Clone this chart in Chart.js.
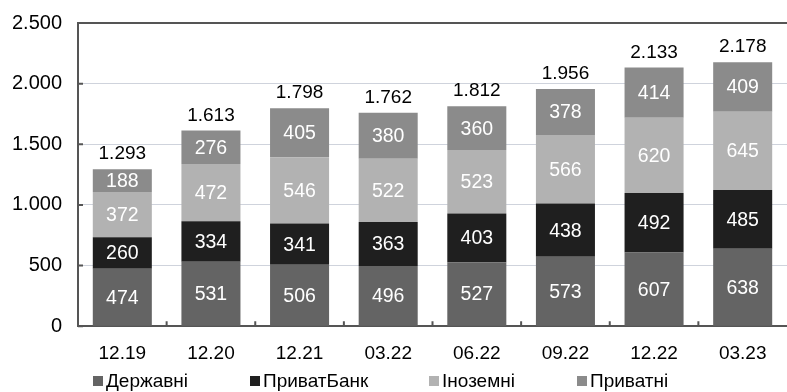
<!DOCTYPE html>
<html>
<head>
<meta charset="utf-8">
<script src="https://cdn.jsdelivr.net/npm/chart.js@4/dist/chart.umd.min.js"></script>
<style>
  html, body { margin: 0; padding: 0; background: #fff; }
  #wrap { position: relative; width: 787px; height: 392px; }
  #legend { position: absolute; left: 0; top: 370px; width: 787px; height: 22px;
            font-family: 'Liberation Sans', Arial, sans-serif; font-size: 19px; color: #000; }
  #legend .item { position: absolute; top: 0; line-height: 22px; white-space: nowrap; }
  #legend .box { display: inline-block; width: 10px; height: 10px; margin-right: 3px; vertical-align: 1px; }
</style>
</head>
<body>
<div id="wrap">
  <canvas id="myChart"></canvas>
  <div id="legend"></div>
</div>
<script>
(function () {
  'use strict';
  const categories = ["12.19", "12.20", "12.21", "03.22", "06.22", "09.22", "12.22", "03.23"];
  const derzhavni = [474, 531, 506, 496, 527, 573, 607, 638];
  const privatbank = [260, 334, 341, 363, 403, 438, 492, 485];
  const inozemni = [372, 472, 546, 522, 523, 566, 620, 645];
  const pryvatni = [188, 276, 405, 380, 360, 378, 414, 409];
  const totals = [1293, 1613, 1798, 1762, 1812, 1956, 2133, 2178];
  const yTicks = [0, 500, 1000, 1500, 2000, 2500];

  const fmt = function (v) {
    return String(v).replace(/\B(?=(\d{3})+(?!\d))/g, ".");
  };

  const FONT = "'Liberation Sans', Arial, sans-serif";
  const AXIS = "#555555";

  // Value labels inside the segments, totals above the bars, frame and inner ticks
  const labelPlugin = {
    id: "labels",
    afterDatasetsDraw(chart) {
      const ctx = chart.ctx;
      const yScale = chart.scales.y;
      const xScale = chart.scales.x;
      const a = chart.chartArea;
      ctx.save();
      ctx.font = "19.5px " + FONT;
      ctx.textAlign = "center";
      ctx.textBaseline = "middle";
      chart.data.datasets.forEach(function (ds, di) {
        const meta = chart.getDatasetMeta(di);
        meta.data.forEach(function (bar, i) {
          ctx.fillStyle = "#ffffff";
          ctx.fillText(fmt(ds.data[i]), bar.x, (bar.y + bar.base) / 2 + 1);
        });
      });
      ctx.fillStyle = "#000000";
      ctx.font = "19px " + FONT;
      ctx.textBaseline = "alphabetic";
      totals.forEach(function (t, i) {
        ctx.fillText(fmt(t), xScale.getPixelForValue(i), yScale.getPixelForValue(t) - 10);
      });
      ctx.strokeStyle = AXIS;
      ctx.lineWidth = 2;
      ctx.beginPath();
      ctx.moveTo(a.left, a.top);
      ctx.lineTo(a.right, a.top);
      // small inner ticks on the value axis
      yTicks.forEach(function (v) {
        const y = yScale.getPixelForValue(v);
        ctx.moveTo(a.left, y);
        ctx.lineTo(a.left + 5, y);
      });
      // small inner ticks between categories
      for (let i = 0; i < categories.length - 1; i++) {
        const x = (xScale.getPixelForValue(i) + xScale.getPixelForValue(i + 1)) / 2;
        ctx.moveTo(x, a.bottom);
        ctx.lineTo(x, a.bottom - 5);
      }
      ctx.stroke();
      ctx.restore();
    }
  };

  const datasets = [
    { label: "Державні", data: derzhavni, backgroundColor: "#646464" },
    { label: "ПриватБанк", data: privatbank, backgroundColor: "#1f1f1f" },
    { label: "Іноземні", data: inozemni, backgroundColor: "#b2b2b2" },
    { label: "Приватні", data: pryvatni, backgroundColor: "#8b8b8b" }
  ];

  // Legend below the chart
  const legendLeft = [93, 250, 429, 577];
  const legend = document.getElementById("legend");
  datasets.forEach(function (ds, i) {
    const item = document.createElement("span");
    item.className = "item";
    item.style.left = legendLeft[i] + "px";
    const box = document.createElement("span");
    box.className = "box";
    box.style.background = ds.backgroundColor;
    item.appendChild(box);
    item.appendChild(document.createTextNode(ds.label));
    legend.appendChild(item);
  });

  const chart = document.getElementById("myChart");
  new Chart(chart, {
    type: "bar",
    data: { labels: categories, datasets: datasets },
    options: {
      responsive: true,
      maintainAspectRatio: false,
      animation: false,
      layout: { padding: { top: 23, right: 0, left: 12, bottom: 11 } },
      datasets: {
        bar: { categoryPercentage: 1, barPercentage: 0.666, borderWidth: 0 }
      },
      plugins: {
        legend: { display: false },
        tooltip: { enabled: false }
      },
      scales: {
        x: {
          stacked: true,
          grid: { display: false, drawTicks: false },
          border: { color: AXIS, width: 2 },
          ticks: { color: "#000", font: { family: FONT, size: 19 }, padding: 16 }
        },
        y: {
          stacked: true,
          min: 0,
          max: 2500,
          afterBuildTicks: function (axis) {
            axis.ticks = yTicks.map(function (v) { return { value: v }; });
          },
          afterFit: function (axis) {
            axis.width = 66;
            axis.paddingTop = 0;
            axis.paddingBottom = 0;
          },
          grid: { color: "#cfd3dc", lineWidth: 1, drawTicks: false },
          border: { color: AXIS, width: 2 },
          ticks: {
            color: "#000",
            font: { family: FONT, size: 20 },
            padding: 16,
            callback: function (v) { return fmt(v); }
          }
        }
      }
    },
    plugins: [labelPlugin]
  });
})();
</script>
</body>
</html>
